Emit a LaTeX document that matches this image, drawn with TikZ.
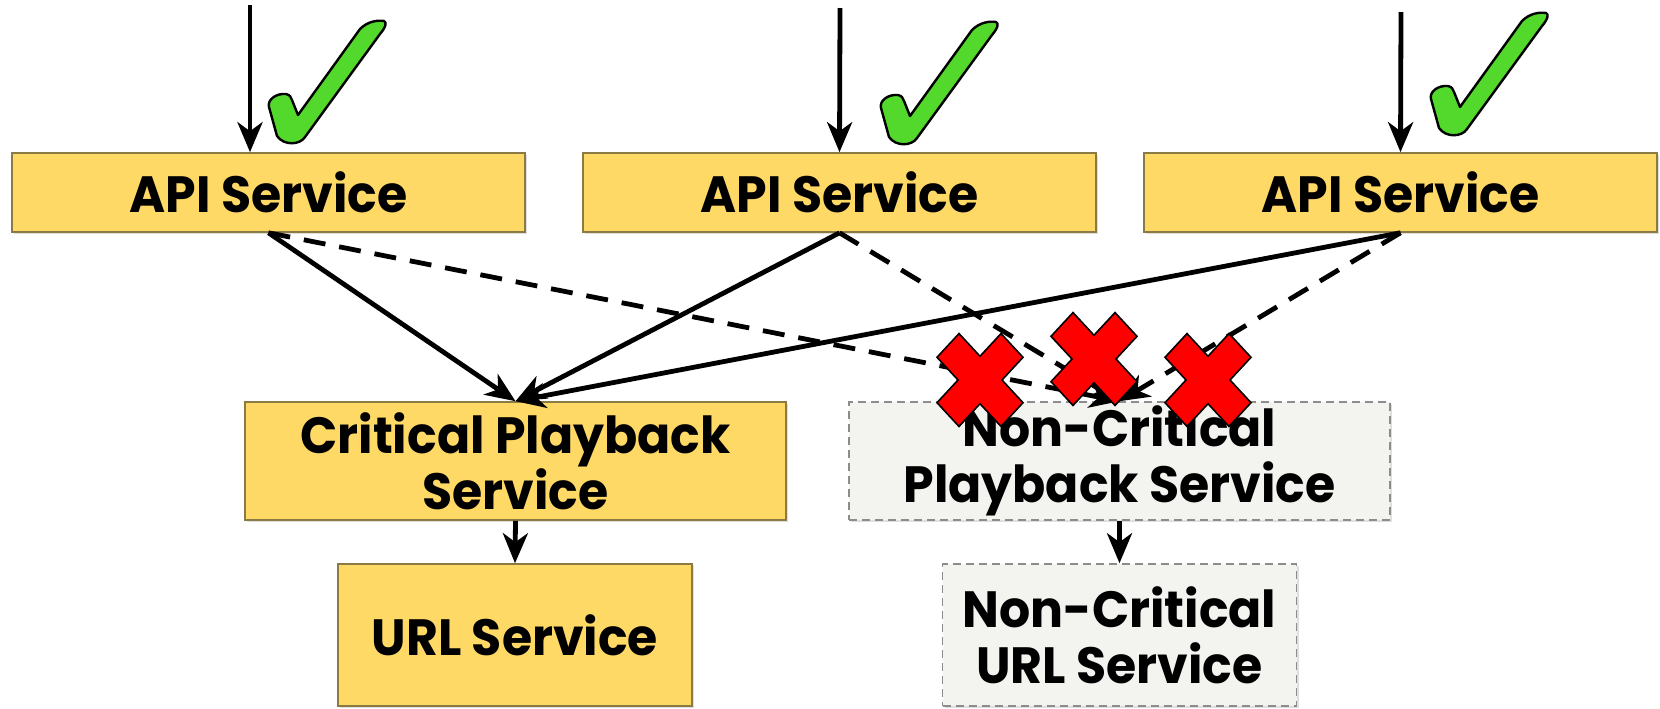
\documentclass[tikz,border=0pt]{standalone}
\usepackage{fontspec}
\setmainfont{Poppins}[FakeStretch=0.96]
\usetikzlibrary{arrows.meta,shadows}
\definecolor{boxyellow}{HTML}{FFD966}
\definecolor{boxedge}{HTML}{8A7A44}
\definecolor{ncfill}{HTML}{F3F3EF}
\definecolor{ncedge}{HTML}{8C8C8C}
\definecolor{checkgreen}{HTML}{52D92C}
\definecolor{xred}{HTML}{FF0000}
\tikzset{
  svc/.style={draw=boxedge, line width=0.8pt, fill=boxyellow, align=center,
    font=\bfseries\fontsize{25.5}{28}\selectfont, inner sep=0pt,
    drop shadow={shadow xshift=1.2pt, shadow yshift=-1.2pt, opacity=0.25}},
  ncsvc/.style={svc, draw=ncedge, fill=ncfill, dash pattern=on 4pt off 2.5pt},
  apibox/.style={svc, minimum width=256.5pt, minimum height=39.5pt},
  midbox/.style={minimum width=270.5pt, minimum height=59pt},
  lowbox/.style={minimum width=177pt, minimum height=71pt},
  conn/.style={line width=2.4pt, -{Stealth[length=15pt,width=12.5pt,inset=4.5pt]}},
  dconn/.style={conn, dash pattern=on 11pt off 7pt},
  checkmark/.pic={
    \draw[fill=checkgreen, line width=1.2pt, line join=round]
      (30,94) -- (92,8) .. controls (100,0) and (110,-1) .. (116,0)
      .. controls (119,1) and (118,6) .. (112,13)
      -- (37,116) .. controls (32,124) and (16,125) .. (9,115)
      -- (1,86) .. controls (-1,79) and (8,72) .. (18,73)
      .. controls (22,74) and (23,76) .. (24,79) -- cycle;
  },
  redcross/.pic={
    \draw[fill=xred, line width=0.8pt, line join=miter, yscale=1.08]
      (-43,-21) -- (-21,-43) -- (0,-22) -- (21,-43) -- (43,-21) -- (22,0)
      -- (43,21) -- (21,43) -- (0,22) -- (-21,43) -- (-43,21) -- (-22,0) -- cycle;
  }
}
\begin{document}
\begin{tikzpicture}[x=0.5pt,y=-0.5pt]
\useasboundingbox (0,0) rectangle (1660,708);

% boxes
\node[apibox] (a1) at (268.5,192.5) {API Service};
\node[apibox] (a2) at (839.5,192.5) {API Service};
\node[apibox] (a3) at (1400.5,192.5) {API Service};
\node[svc, midbox] (cps) at (515.5,461) {Critical Playback\\Service};
\node[ncsvc, midbox] (ncps) at (1119.5,461) {Non-Critical\\Playback Service};
\node[svc, lowbox] (url) at (515,635) {URL Service};
\node[ncsvc, lowbox] (ncurl) at (1119.5,635) {Non-Critical\\URL Service};

% incoming arrows
\coordinate (t1) at (250,5);
\coordinate (t2) at (840,8);
\coordinate (t3) at (1401,12);
\draw[conn] (t1) -- (t1 |- a1.north);
\draw[conn] (t2) -- (a2.north);
\draw[conn] (t3) -- (a3.north);

% dashed (non-critical) calls
\draw[dconn] (a1.south) -- (ncps.north);
\draw[dconn] (a2.south) -- (ncps.north);
\draw[dconn] (a3.south) -- (ncps.north);

% solid (critical) calls
\draw[conn] (a1.south) -- (cps.north);
\draw[conn] (a2.south) -- (cps.north);
\draw[conn] (a3.south) -- (cps.north);

% downstream
\draw[conn] (cps.south) -- (url.north);
\draw[conn] (ncps.south) -- (ncurl.north);

% marks
\pic at (980,380) {redcross};
\pic at (1094,359) {redcross};
\pic at (1208,380) {redcross};
\pic at (268,21) {checkmark};
\pic at (880,22) {checkmark};
\pic at (1430,13) {checkmark};
\end{tikzpicture}
\end{document}
